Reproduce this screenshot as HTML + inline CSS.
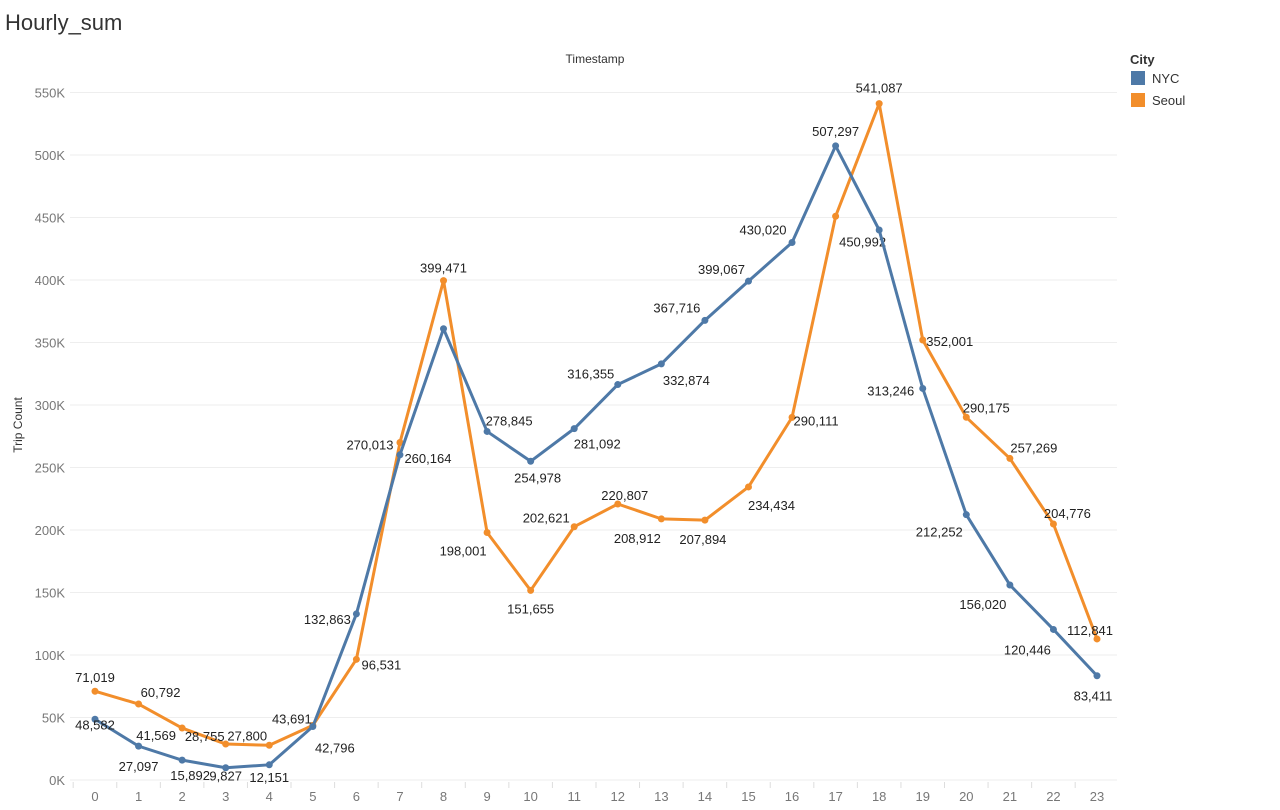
<!DOCTYPE html>
<html><head><meta charset="utf-8"><style>
body{margin:0;background:#fff;font-family:"Liberation Sans",sans-serif}
</style></head><body>
<svg id="c" width="1280" height="805" xmlns="http://www.w3.org/2000/svg">
<text x="5" y="30" font-size="22" fill="#333">Hourly_sum</text>
<text x="595" y="63" font-size="12" fill="#333" text-anchor="middle">Timestamp</text>
<text transform="translate(22,425) rotate(-90)" font-size="12" fill="#333" text-anchor="middle">Trip Count</text>
<g>
<text x="1130" y="64" font-size="13" font-weight="bold" fill="#333">City</text>
<rect x="1131" y="71" width="14" height="14" fill="#4e79a7"/>
<text x="1152" y="83" font-size="13" fill="#333">NYC</text>
<rect x="1131" y="93" width="14" height="14" fill="#f28e2b"/>
<text x="1152" y="105" font-size="13" fill="#333">Seoul</text>
</g>
<g id="plot"></g>
</svg>
<script>
const hours=[0,1,2,3,4,5,6,7,8,9,10,11,12,13,14,15,16,17,18,19,20,21,22,23];
const nyc=[48582,27097,15892,9827,12151,42796,132863,260164,361000,278845,254978,281092,316355,332874,367716,399067,430020,507297,440000,313246,212252,156020,120446,83411];
const seoul=[71019,60792,41569,28755,27800,43691,96531,270013,399471,198001,151655,202621,220807,208912,207894,234434,290111,450992,541087,352001,290175,257269,204776,112841];
const nycLabeled=[1,1,1,1,1,1,1,1,0,1,1,1,1,1,1,1,1,1,0,1,1,1,1,1];
const seoulLabeled=[1,1,1,1,1,1,1,1,1,1,1,1,1,1,1,1,1,1,1,1,1,1,1,1];
const yTicks=[0,50000,100000,150000,200000,250000,300000,350000,400000,450000,500000,550000];
const nycOff=[[0,5],[0,20],[8,15],[0,8],[0,12],[22,21],[-29,5],[28,3],[0,0],[22,-11],[7,16],[23,15],[-27,-11],[25,16],[-28,-13],[-27,-12],[-29,-13],[0,-15],[0,0],[-32,2],[-27,17],[-27,19],[-26,20],[-4,20]];
const seoulOff=[[0,-14],[22,-12],[-26,7],[-21,-8],[-22,-10],[-21,-7],[25,5],[-30,2],[0,-13],[-24,18],[0,18],[-28,-9],[7,-9],[-24,19],[-2,19],[23,18],[24,3],[27,25],[0,-16],[27,1],[20,-10],[24,-11],[14,-11],[-7,-9]];
const X=h=>95+h*(1002/23);
const Y=v=>780-v*(62.5/50000);
const NS="http://www.w3.org/2000/svg";
const g=document.getElementById('plot');
function mk(t,a){const e=document.createElementNS(NS,t);for(const k in a)e.setAttribute(k,a[k]);g.appendChild(e);return e;}
const fmt=v=>v.toLocaleString('en-US');
yTicks.forEach(v=>{
 const l=mk('line',{x1:70,x2:1117,y1:Y(v),y2:Y(v),stroke:'#eeeeee','stroke-width':1});
 
 
 const t=mk('text',{x:65,y:Y(v)+5,'font-size':13,fill:'#777','text-anchor':'end'});
 t.textContent=(v/1000)+'K';
 
 
});
hours.forEach(h=>{
 const l=mk('line',{x1:X(h)-21.8,x2:X(h)-21.8,y1:782,y2:788,stroke:'#ddd'});
 
 
 const t=mk('text',{x:X(h),y:801,'font-size':13,fill:'#777','text-anchor':'middle'});
 t.textContent=h;
 
 
});
function series(vals,color,name,lab,off){
 const p=mk('polyline',{points:vals.map((v,i)=>X(hours[i])+','+Y(v)).join(' '),fill:'none',stroke:color,'stroke-width':3,'stroke-linejoin':'round'});
 
 
 vals.forEach((v,i)=>{
  const c=mk('circle',{cx:X(hours[i]),cy:Y(v),r:3.5,fill:color});
  
  
 });
 vals.forEach((v,i)=>{
  if(!lab[i])return;
  const t=mk('text',{x:X(hours[i])+off[i][0],y:Y(v)+off[i][1]+5,'font-size':13,fill:'#222','text-anchor':'middle'});
  t.textContent=fmt(v);
  
  
 });
}
series(seoul,'#f28e2b','seoul',seoulLabeled,seoulOff);
series(nyc,'#4e79a7','nyc',nycLabeled,nycOff);
</script>
</body></html>
